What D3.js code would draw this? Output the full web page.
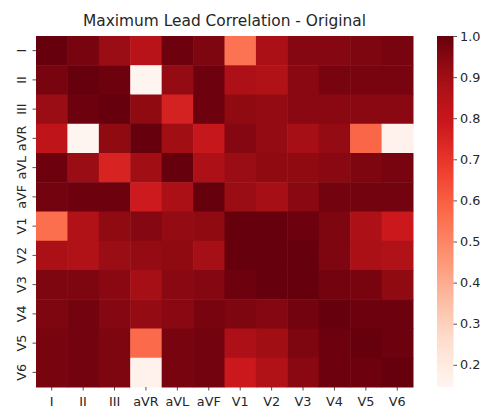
<!DOCTYPE html>
<html>
<head>
<meta charset="utf-8">
<script src="https://cdn.jsdelivr.net/npm/d3@7"></script>
<style>
body { margin: 0; background: #fff; }
text { font-family: "DejaVu Sans", sans-serif; fill: #262626; }
</style>
</head>
<body>
<script>
// leads, rows and columns are the same
var leads = ["I", "II", "III", "aVR", "aVL", "aVF", "V1", "V2", "V3", "V4", "V5", "V6"];

var rowI   = [1.00, 0.97, 0.91, 0.84, 0.99, 0.96, 0.55, 0.88, 0.95, 0.95, 0.96, 0.97];
var rowII  = [0.97, 1.00, 0.99, 0.146, 0.92, 0.99, 0.87, 0.86, 0.94, 0.97, 0.97, 0.97];
var rowIII = [0.91, 0.99, 1.00, 0.93, 0.76, 0.99, 0.93, 0.92, 0.94, 0.94, 0.94, 0.94];
var rowAVR = [0.82, 0.146, 0.93, 1.00, 0.90, 0.80, 0.95, 0.92, 0.89, 0.92, 0.58, 0.16];
var rowAVL = [0.99, 0.91, 0.75, 0.90, 1.00, 0.87, 0.91, 0.93, 0.93, 0.94, 0.96, 0.97];
var rowAVF = [0.98, 0.99, 0.99, 0.78, 0.88, 1.00, 0.91, 0.89, 0.94, 0.98, 0.98, 0.98];
var rowV1  = [0.56, 0.86, 0.93, 0.95, 0.92, 0.93, 1.00, 1.00, 0.99, 0.96, 0.87, 0.79];
var rowV2  = [0.88, 0.86, 0.91, 0.92, 0.93, 0.89, 1.00, 1.00, 1.00, 0.96, 0.88, 0.86];
var rowV3  = [0.96, 0.96, 0.94, 0.89, 0.94, 0.95, 0.99, 1.00, 1.00, 0.98, 0.97, 0.93];
var rowV4  = [0.96, 0.98, 0.95, 0.92, 0.94, 0.97, 0.96, 0.95, 0.98, 1.00, 0.99, 0.99];
var rowV5  = [0.97, 0.98, 0.96, 0.57, 0.97, 0.98, 0.87, 0.90, 0.96, 0.99, 1.00, 0.99];
var rowV6  = [0.97, 0.98, 0.96, 0.16, 0.97, 0.98, 0.79, 0.86, 0.94, 0.99, 0.99, 1.00];

var rows = [rowI, rowII, rowIII, rowAVR, rowAVL, rowAVF, rowV1, rowV2, rowV3, rowV4, rowV5, rowV6];
var cbTicks = [0.2, 0.3, 0.4, 0.5, 0.6, 0.7, 0.8, 0.9, 1.0];

// matplotlib "Reds"
var redsStops = ["#fff5f0", "#fee0d2", "#fcbba1", "#fc9272", "#fb6a4a", "#ef3b2c", "#cb181d", "#a50f15", "#67000d"];

var cells = [];
rows.forEach(function(r, i) {
	r.forEach(function(v, j) {
		cells.push({ row: leads[i], col: leads[j], value: v });
	});
});

var vmin = d3.min(cells, function(d) { return d.value; });
var vmax = d3.max(cells, function(d) { return d.value; });

var color = d3.scaleLinear()
	.domain(redsStops.map(function(s, k) { return vmin + (vmax - vmin) * k / (redsStops.length - 1); }))
	.range(redsStops)
	.interpolate(d3.interpolateRgb);

var WIDTH = 483, HEIGHT = 406;
var plotL = 36, plotT = 36, plotR = 413, plotB = 387;

var svg = d3.select("body").append("svg")
	.attr("width", WIDTH)
	.attr("height", HEIGHT);

var x = d3.scaleBand().domain(leads).range([plotL, plotR]);
var y = d3.scaleBand().domain(leads).range([plotT, plotB]);

svg.selectAll("rect.cell")
	.data(cells)
	.enter()
	.append("rect")
	.attr("class", "cell")
	.attr("x", function(d) { return x(d.col); })
	.attr("y", function(d) { return y(d.row); })
	.attr("width", x.bandwidth() + 0.5)
	.attr("height", y.bandwidth() + 0.5)
	.attr("fill", function(d) { return color(d.value); });

// y axis, labels rotated
var yAxis = svg.append("g")
	.attr("transform", "translate(" + plotL + ",0)")
	.call(d3.axisLeft(y).tickSize(3.5).tickPadding(3));
yAxis.select(".domain").remove();
yAxis.selectAll("line").attr("stroke", "#262626").attr("stroke-width", 0.8);
yAxis.selectAll("text")
	.attr("x", 0).attr("dy", 0)
	.attr("transform", "translate(-10.5,0) rotate(-90)")
	.attr("text-anchor", "middle")
	.style("font-size", "12.8px")
	.attr("fill", "#262626");

var xAxis = svg.append("g")
	.attr("transform", "translate(0," + plotB + ")")
	.call(d3.axisBottom(x).tickSize(3.5).tickPadding(6.5));
xAxis.select(".domain").remove();
xAxis.selectAll("line").attr("stroke", "#262626").attr("stroke-width", 0.8);
xAxis.selectAll("text")
	.style("font-size", "12.8px")
	.attr("fill", "#262626");

// title
svg.append("text")
	.attr("x", (plotL + plotR) / 2)
	.attr("y", 26)
	.attr("text-anchor", "middle")
	.style("font-size", "15.4px")
	.text("Maximum Lead Correlation - Original");

// colorbar
var cbX = 437, cbW = 16.5;
var cbScale = d3.scaleLinear().domain([vmin, vmax]).range([plotB, plotT]);

var grad = svg.append("defs").append("linearGradient")
	.attr("id", "cbgrad")
	.attr("x1", 0).attr("y1", 1).attr("x2", 0).attr("y2", 0);
d3.range(0, 1.0001, 0.05).forEach(function(t) {
	grad.append("stop")
		.attr("offset", t)
		.attr("stop-color", color(vmin + t * (vmax - vmin)));
});

svg.append("rect")
	.attr("x", cbX).attr("y", plotT)
	.attr("width", cbW).attr("height", plotB - plotT)
	.attr("fill", "url(#cbgrad)");

var cbAxis = svg.append("g")
	.attr("transform", "translate(" + (cbX + cbW) + ",0)")
	.call(d3.axisRight(cbScale).tickValues(cbTicks).tickFormat(d3.format(".1f")).tickSize(3.5).tickPadding(3));
cbAxis.select(".domain").remove();
cbAxis.selectAll("line").attr("stroke", "#262626").attr("stroke-width", 0.8);
cbAxis.selectAll("text")
	.style("font-size", "12.8px")
	.attr("fill", "#262626");
</script>
</body>
</html>
